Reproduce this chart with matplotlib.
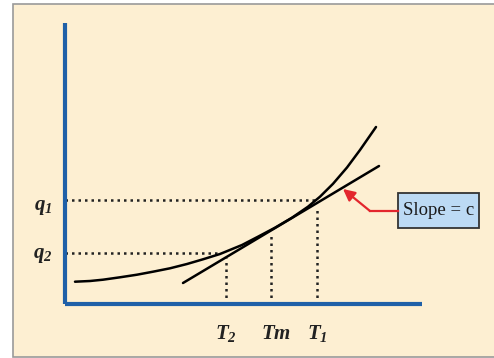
import matplotlib
matplotlib.use("Agg")
import matplotlib.pyplot as plt
from matplotlib.patches import Rectangle, FancyArrowPatch

plt.rcParams['mathtext.fontset'] = 'custom'
plt.rcParams['mathtext.it'] = 'Liberation Serif:italic:bold'
plt.rcParams['mathtext.rm'] = 'Liberation Serif:italic:bold'
plt.rcParams['mathtext.bf'] = 'Liberation Serif:italic:bold'

# Data (schematic units, origin at the axes corner)
curve_x = [10, 25, 38, 55, 72, 88, 105, 122, 138, 155, 177, 193, 210, 227, 243,
           255, 268, 282, 295, 311]
curve_y = [22.3, 23, 24.3, 26.7, 29.3, 32.3, 35.7, 40, 44.7, 50, 59, 67.3, 76.3,
           86.3, 97.3, 107.3, 120.2, 136.5, 154, 177]
tangent_x = [118, 314]
tangent_y = [21, 138]
t_labels = [r'$T_2$', r'$Tm$', r'$T_1$']
t_x = [161, 206, 252]
t_top = [46, 71, 97]
t_label_x = [161, 211, 252]
q_labels = [r'$q_1$', r'$q_2$']
q_y = [104, 51]
q_right = [251, 155]
q_label_y = [97, 49]

cream = '#fdefd2'
blue = '#1f60a8'

fig = plt.figure(figsize=(4.94, 3.58), dpi=100, facecolor='white')
fig.patches.append(Rectangle((13/494, 1/358), 1.2, 353/358, transform=fig.transFigure,
                             facecolor=cream, edgecolor='#9a9a9a', linewidth=1.2, zorder=-10))

ax = fig.add_axes([65/494, 54/358, 357/494, 281/358])
ax.set_facecolor('none')
ax.set_xlim(0, 357)
ax.set_ylim(0, 281)
for s in ['top', 'right']:
    ax.spines[s].set_visible(False)
for s in ['left', 'bottom']:
    ax.spines[s].set_color(blue)
    ax.spines[s].set_linewidth(3)
    ax.spines[s].set_capstyle('butt')
ax.set_xticks([])
ax.set_yticks([])

dot = (0, (1, 1.6))
for x, top in zip(t_x, t_top):
    ax.plot([x, x], [0, top], color='#222222', lw=1.8, linestyle=dot, zorder=2)
for y, r in zip(q_y, q_right):
    ax.plot([0, r], [y, y], color='#222222', lw=1.8, linestyle=dot, zorder=2)

ax.plot(curve_x, curve_y, color='black', lw=1.8, solid_capstyle='round',
        solid_joinstyle='round', zorder=3)
ax.plot(tangent_x, tangent_y, color='black', lw=1.8, solid_capstyle='round', zorder=3)

for lab, x in zip(t_labels, t_label_x):
    ax.text(x, -29, lab, ha='center', va='center', fontsize=15, color='#222222',
            clip_on=False)
for lab, y in zip(q_labels, q_label_y):
    ax.text(-22, y, lab, ha='center', va='center', fontsize=15, color='#222222',
            clip_on=False)

# annotation box
ax.add_patch(Rectangle((333, 76), 81, 35, facecolor='#bcdaf4', edgecolor='#333333',
                       linewidth=1.3, clip_on=False, zorder=4))
ax.text(373.5, 93.5, 'Slope = c', ha='center', va='center', fontsize=13.5,
        family='Liberation Serif', color='#1a1a1a', clip_on=False, zorder=5)
ax.plot([333, 305], [93, 93], color='#e3262d', lw=1.6, clip_on=False, zorder=4)
arr = FancyArrowPatch((305, 93), (278, 115), arrowstyle='-|>,head_length=7,head_width=3.5',
                      color='#e3262d', lw=1.6, shrinkA=0, shrinkB=0, clip_on=False, zorder=4)
ax.add_patch(arr)

fig.savefig('out.png', dpi=100, facecolor=fig.get_facecolor())
